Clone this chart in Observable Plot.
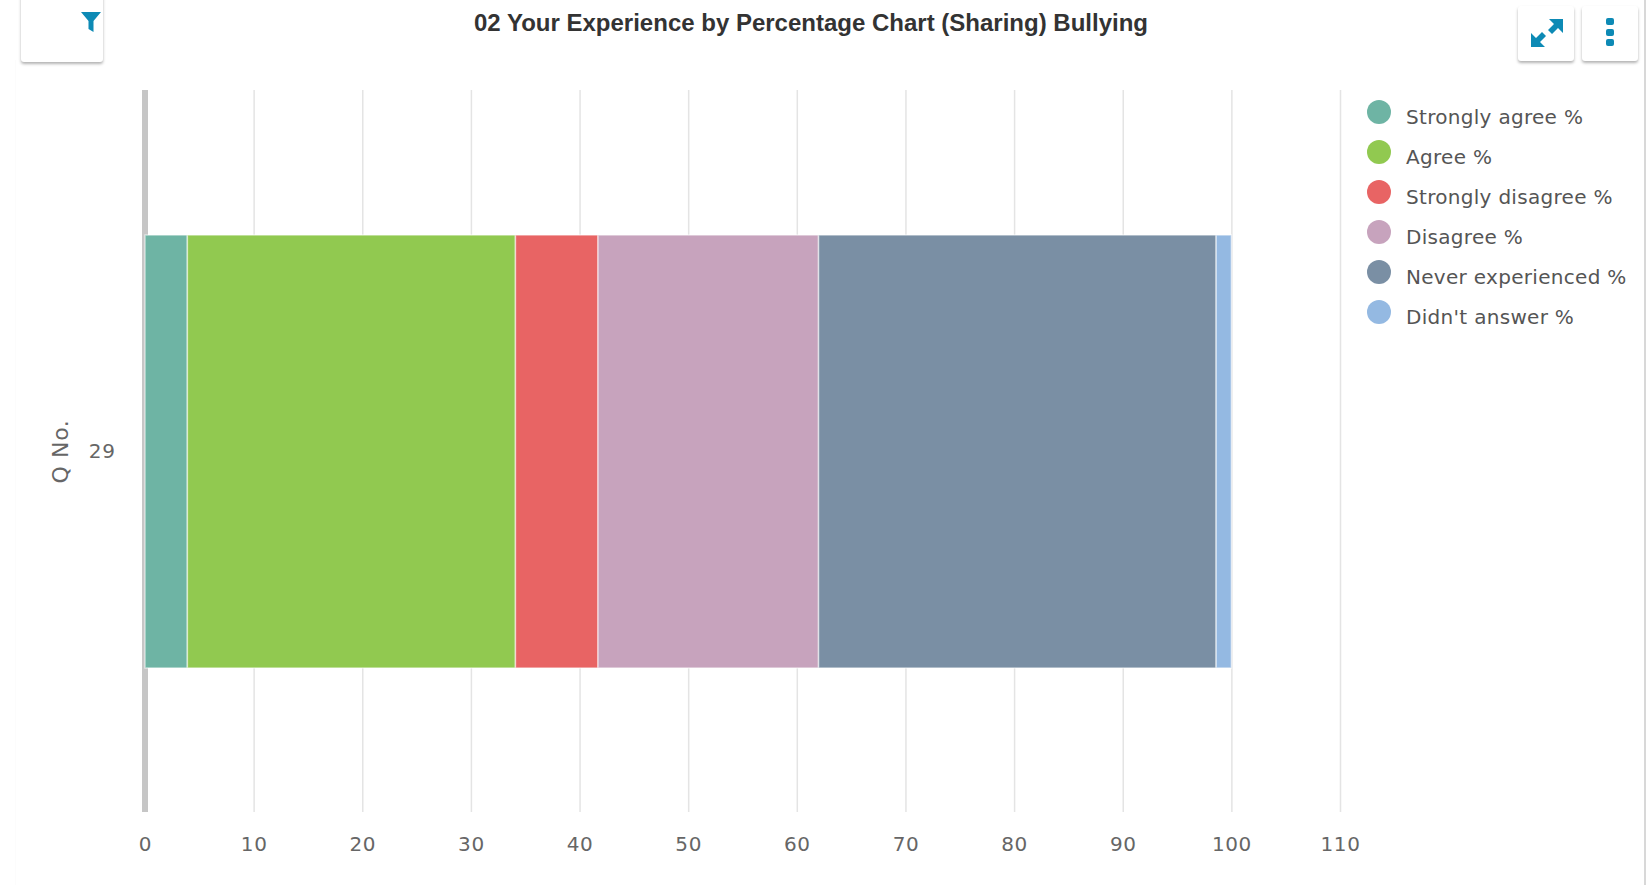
<!DOCTYPE html>
<html>
<head>
<meta charset="utf-8">
<script src="https://cdn.jsdelivr.net/npm/d3@7"></script>
<script src="https://cdn.jsdelivr.net/npm/@observablehq/plot@0.6"></script>
<style>
html,body{margin:0;padding:0;background:#fff;width:1647px;height:885px;overflow:hidden}
#wrap{position:relative;width:1647px;height:885px;font-family:"DejaVu Sans",sans-serif}
#chart{position:absolute;left:0;top:0}
#title{position:absolute;left:0;width:1622px;top:9px;text-align:center;font:bold 24px "Liberation Sans",sans-serif;color:#333;white-space:nowrap}
#legend{position:absolute;left:1367px;top:100px}
.li{display:flex;align-items:flex-start;height:40px;font-size:20px;letter-spacing:.3px;color:#555;white-space:nowrap}
.sw{width:24px;height:24px;border-radius:50%;margin-right:15px;flex:none}
.li span{position:relative;top:5px}
.btn{position:absolute;background:#fff;border-radius:3px;box-shadow:0 2px 3px rgba(0,0,0,.3)}
.ic{position:absolute;left:0;top:0}
#edgeR{position:absolute;left:1644px;top:0;width:2px;height:885px;background:#d8d8d8}
#edgeL{position:absolute;left:15px;top:60px;width:1px;height:825px;background:#fcfcfc}
</style>
</head>
<body>
<div id="wrap">
  <div id="chart"></div>
  <div id="edgeL"></div>
  <div id="edgeR"></div>
  <div id="title"></div>
  <div id="legend"></div>
  <div class="btn" style="left:21px;top:-6px;width:82px;height:68px"></div>
  <div class="btn" style="left:1518px;top:6px;width:56px;height:55px"></div>
  <div class="btn" style="left:1582px;top:6px;width:56px;height:55px"></div>
  <svg class="ic" width="1647" height="70" fill="#0d8ab5" stroke="none">
    <path d="M81 12H101L93.500 21V32L88.500 29V21Z"/>
    <path d="M1549 19H1563V33L1558 28L1552 34L1548 30L1554 24Z"/>
    <path d="M1531 47V33L1536 38L1542 32L1546 36L1540 42L1545 47Z"/>
    <rect x="1606" y="18" width="8" height="7" rx="2"/>
    <rect x="1606" y="29" width="8" height="7" rx="2"/>
    <rect x="1606" y="39" width="8" height="7" rx="2"/>
  </svg>
</div>
<script>
const chartTitle = "02 Your Experience by Percentage Chart (Sharing) Bullying";
const question = "29";
const categories = ["Strongly agree %","Agree %","Strongly disagree %","Disagree %","Never experienced %","Didn't answer %"];
const values = [3.9, 30.2, 7.6, 20.3, 36.6, 1.4];
const colors = ["#6eb4a4","#91c950","#e86464","#c7a3bd","#7a8fa4","#94b9e2"];
const xTicks = [0,10,20,30,40,50,60,70,80,90,100,110];

const rows = categories.map((c,i)=>({category:c,value:values[i],q:question}));

document.getElementById("title").textContent = chartTitle;
const legend = document.getElementById("legend");
categories.forEach((c,i)=>{
  const row = document.createElement("div"); row.className="li";
  const sw = document.createElement("div"); sw.className="sw"; sw.style.background=colors[i];
  const t = document.createElement("span"); t.textContent=c;
  row.append(sw,t); legend.append(row);
});

const plot = Plot.plot({
  width:1647, height:885,
  marginLeft:145, marginRight:307, marginTop:90, marginBottom:73,
  style:{fontFamily:"DejaVu Sans, sans-serif",fontSize:"20px",letterSpacing:"0.6px",color:"#666",background:"transparent"},
  x:{domain:[0,110]},
  y:{domain:[question],padding:0.25,axis:null},
  color:{domain:categories,range:colors},
  marks:[
    Plot.gridX(xTicks,{stroke:"#e4e4e4",strokeOpacity:1,strokeWidth:1.5}),
    Plot.ruleX([0],{stroke:"#c6c6c6",strokeWidth:6,dx:-0.5}),
    Plot.barX(rows,Plot.stackX({x:"value",y:"q",fill:"category",order:null,stroke:"#fff",strokeOpacity:0.55,strokeWidth:1.5})),
    Plot.axisX(xTicks,{tickSize:0,tickPadding:24,label:null,fill:"#666",tickFormat:d=>String(d)}),
    Plot.axisY([question],{anchor:"left",tickSize:0,tickPadding:30,label:null,fill:"#666"}),
    Plot.text(["Q No."],{frameAnchor:"left",textAnchor:"middle",dx:-85,rotate:-90,fill:"#666",fontSize:22})
  ]
});
document.getElementById("chart").append(plot);
</script>
</body>
</html>
